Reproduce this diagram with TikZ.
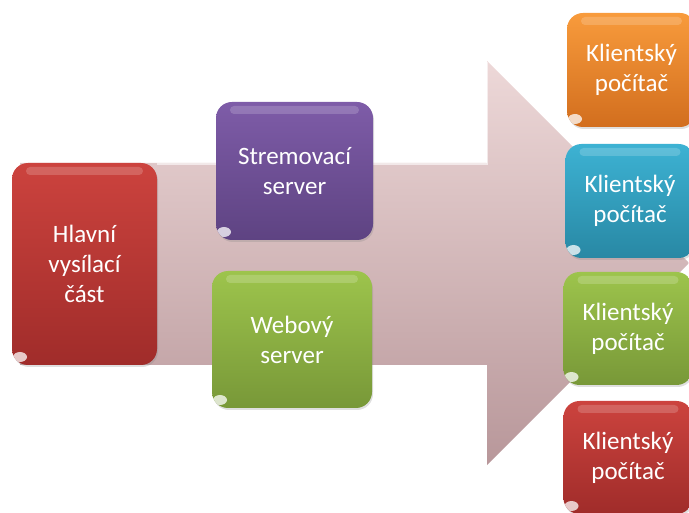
\documentclass[tikz,border=0pt]{standalone}
\usepackage{fontspec}
\setmainfont{Carlito}
\usetikzlibrary{shadows}

\definecolor{redtop}{HTML}{CC433E}
\definecolor{redbot}{HTML}{A02C2A}
\definecolor{purpletop}{HTML}{7E5CA8}
\definecolor{purplebot}{HTML}{5E4382}
\definecolor{greentop}{HTML}{9DC44C}
\definecolor{greenbot}{HTML}{789838}
\definecolor{orangetop}{HTML}{F89B3C}
\definecolor{orangebot}{HTML}{D26E1E}
\definecolor{bluetop}{HTML}{3DB2D3}
\definecolor{bluebot}{HTML}{2888A4}
\definecolor{arrowtop}{HTML}{EDD8D8}
\definecolor{arrowbot}{HTML}{B8979A}

\tikzset{
  box/.style={rectangle, rounded corners=16pt, align=center, text=white, inner sep=0pt,
    font=\fontsize{25}{30}\selectfont,
    drop shadow={shadow xshift=1pt, shadow yshift=-2pt, opacity=.25},
    path picture={
      \fill[white, opacity=.18, rounded corners=4pt]
        ([xshift=14pt,yshift=-4pt]path picture bounding box.north west) rectangle
        ([xshift=-14pt,yshift=-12pt]path picture bounding box.north east);
      \fill[white, opacity=.75]
        ([xshift=8pt,yshift=8pt]path picture bounding box.south west) ellipse (7pt and 5pt);
    }},
  redbox/.style={box, top color=redtop, bottom color=redbot},
  purplebox/.style={box, top color=purpletop, bottom color=purplebot},
  greenbox/.style={box, top color=greentop, bottom color=greenbot},
  orangebox/.style={box, top color=orangetop, bottom color=orangebot},
  bluebox/.style={box, top color=bluetop, bottom color=bluebot},
  client/.style={minimum width=129pt, minimum height=114pt}
}

\begin{document}
\begin{tikzpicture}[x=1pt, y=-1pt]
  \useasboundingbox (0,0) rectangle (689,513);
  \clip (0,0) rectangle (689,513);

  %% The big arrow in the background. Its tip sits behind the client boxes.
  \shade[top color=arrowtop, bottom color=arrowbot]
    (20,163) -- (487,163) -- (487,61) -- (689,263) -- (487,465) -- (487,365) -- (20,365) -- cycle;
  \draw[white, opacity=.6, line width=1.5pt] (157,164) -- (487,164) -- (487,62);

  %% Main source on the left
  \node[redbox, minimum width=145pt, minimum height=202pt] (hlavni) at (84.5,264)
    {Hlavní\\vysílací\\část};

  %% The two servers in the middle
  \node[purplebox, minimum width=157pt, minimum height=138pt] (stream) at (294.5,171)
    {Stremovací\\server};
  \node[greenbox, minimum width=160pt, minimum height=137pt] (web) at (292,339.5)
    {Webový\\server};

  %% Client computers on the right
  \node[orangebox, client] (klient1) at (631.5,70) {Klientský\\počítač};
  \node[bluebox, client] (klient2) at (630,201) {Klientský\\počítač};
  \node[greenbox, client, minimum height=113pt] (klient3) at (628,328.5) {Klientský\\počítač};
  \node[redbox, client, minimum height=113pt] (klient4) at (628,457.5) {Klientský\\počítač};
\end{tikzpicture}
\end{document}
